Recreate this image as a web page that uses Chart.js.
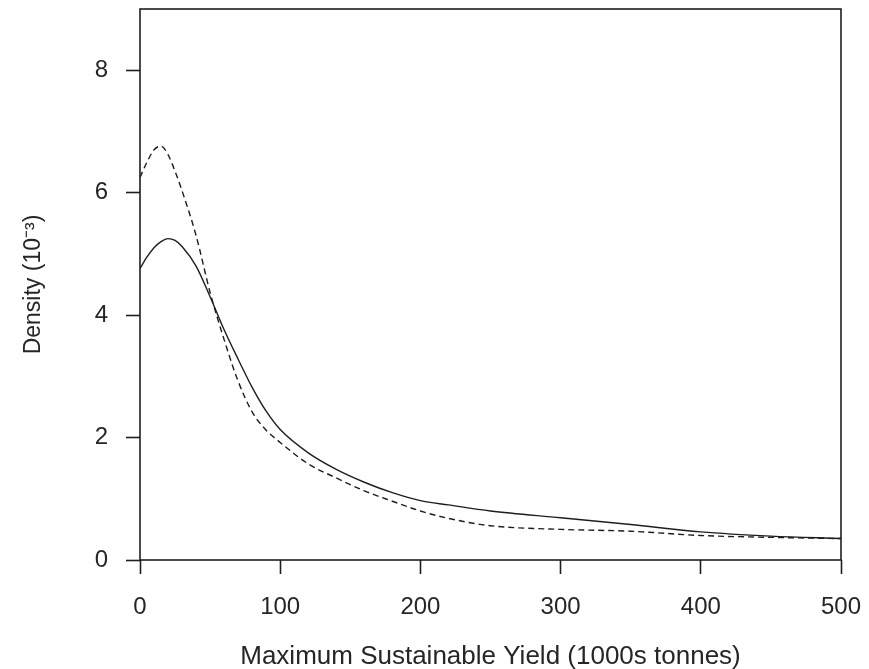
<!DOCTYPE html>
<html>
<head>
<meta charset="utf-8">
<script src="https://cdn.jsdelivr.net/npm/chart.js@4/dist/chart.umd.min.js"></script>
<style>
  html, body { margin: 0; padding: 0; background: #fff; }
  #wrap { width: 869px; height: 669px; position: relative; }
</style>
</head>
<body>
<div id="wrap"><canvas id="density-chart"></canvas></div>
<script>
// values (x in 1000s tonnes, density in 10^-3)
var msy = [0, 5, 10, 15, 20, 25, 30, 40, 50, 60, 70, 80, 90, 100, 120, 140, 160, 180, 200, 220, 250, 300, 350, 400, 450, 500],
    densitySolid = [4.76, 4.95, 5.1, 5.2, 5.25, 5.22, 5.12, 4.8, 4.3, 3.76, 3.28, 2.82, 2.43, 2.13, 1.75, 1.48, 1.27, 1.1, 0.97, 0.9, 0.8, 0.69, 0.58, 0.46, 0.39, 0.35],
    densityDashed = [6.25, 6.5, 6.7, 6.76, 6.62, 6.35, 6.03, 5.3, 4.37, 3.6, 2.92, 2.42, 2.12, 1.92, 1.57, 1.34, 1.13, 0.96, 0.8, 0.68, 0.56, 0.5, 0.47, 0.4, 0.37, 0.35],
    xTicks = [0, 100, 200, 300, 400, 500],
    yTicks = [0, 2, 4, 6, 8];

var ink = "#1e1e1e",
    textInk = "#262626",
    fontFamily = "'Liberation Sans', Arial, sans-serif";

var toPoints = function (xs, ys) {
    return xs.map(function (x, i) { return { x: x, y: ys[i] }; });
};

// draws the full frame around the plotting region
var frameBox = {
    id: "frameBox",
    afterDraw: function (chart) {
        var a = chart.chartArea, ctx = chart.ctx;
        ctx.save();
        ctx.strokeStyle = ink;
        ctx.lineWidth = 1.6;
        ctx.strokeRect(a.left, a.top, a.right - a.left, a.bottom - a.top);
        ctx.restore();
    }
};

var tickMarks = {
    display: true,
    drawOnChartArea: false,
    drawTicks: true,
    tickLength: 14,
    tickWidth: 1.6,
    tickColor: ink
};

new Chart(document.getElementById("density-chart").getContext("2d"), {
    type: "line",
    data: {
        datasets: [{
            label: "solid",
            data: toPoints(msy, densitySolid),
            borderColor: ink,
            borderWidth: 1.4,
            pointRadius: 0,
            cubicInterpolationMode: "monotone",
            fill: false
        }, {
            label: "dashed",
            data: toPoints(msy, densityDashed),
            borderColor: ink,
            borderWidth: 1.4,
            borderDash: [6, 4],
            pointRadius: 0,
            cubicInterpolationMode: "monotone",
            fill: false
        }]
    },
    options: {
        responsive: true,
        maintainAspectRatio: false,
        animation: false,
        layout: { padding: { top: 9, right: 28, left: 0, bottom: 0 } },
        plugins: {
            legend: { display: false },
            tooltip: { enabled: false }
        },
        scales: {
            x: {
                type: "linear",
                min: 0,
                max: 500,
                border: { display: false },
                grid: tickMarks,
                afterBuildTicks: function (axis) {
                    axis.ticks = xTicks.map(function (v) { return { value: v }; });
                },
                afterFit: function (axis) {
                    axis.height = 109;
                    axis.paddingLeft = 0;
                    axis.paddingRight = 0;
                },
                ticks: {
                    color: textInk,
                    padding: 19,
                    maxRotation: 0,
                    font: { family: fontFamily, size: 24 }
                },
                title: {
                    display: true,
                    text: "Maximum Sustainable Yield (1000s tonnes)",
                    color: textInk,
                    padding: { top: 0, bottom: -3 },
                    font: { family: fontFamily, size: 26 }
                }
            },
            y: {
                type: "linear",
                min: 0,
                max: 9,
                border: { display: false },
                grid: tickMarks,
                afterBuildTicks: function (axis) {
                    axis.ticks = yTicks.map(function (v) { return { value: v }; });
                },
                afterFit: function (axis) {
                    axis.width = 140;
                    axis.paddingTop = 0;
                    axis.paddingBottom = 0;
                },
                ticks: {
                    color: textInk,
                    padding: 18,
                    font: { family: fontFamily, size: 24 }
                },
                title: {
                    display: true,
                    text: "Density (10\u207B\u00B3)",
                    color: textInk,
                    padding: { top: 20, bottom: 0 },
                    font: { family: fontFamily, size: 23 }
                }
            }
        }
    },
    plugins: [frameBox]
});
</script>
</body>
</html>
